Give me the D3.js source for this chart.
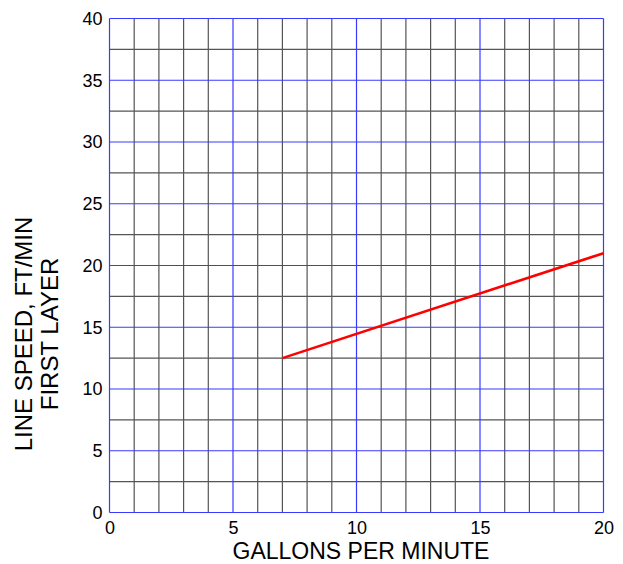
<!DOCTYPE html>
<html>
<head>
<meta charset="utf-8">
<script src="https://cdn.jsdelivr.net/npm/d3@7"></script>
<style>
  html, body { margin: 0; padding: 0; background: #fff; }
  svg { display: block; }
  text { font-family: Arial, "Liberation Sans", sans-serif; fill: #000; }
</style>
</head>
<body>
<svg id="chart" width="623" height="564"></svg>
<script>
// Data
const lineX = [7, 20];          // gallons per minute
const lineY = [12.5, 21];       // line speed, ft/min
const xTicks = [0, 5, 10, 15, 20];
const yTicks = [0, 5, 10, 15, 20, 25, 30, 35, 40];
const xMinor = d3.range(0, 20.001, 1);
const yMinor = d3.range(0, 40.001, 2.5);
const xTitle = "GALLONS PER MINUTE";
const yTitleLines = ["LINE SPEED, FT/MIN", "FIRST LAYER"];

const svg = d3.select("#chart");
const L = 109.5, R = 603.5, T = 18.5, B = 512.5;
const x = d3.scaleLinear().domain([0, 20]).range([L, R]);
const y = d3.scaleLinear().domain([0, 40]).range([B, T]);

const grid = svg.append("g");
// minor grid (dark)
grid.selectAll("line.vx").data(xMinor.filter(d => d % 5 !== 0)).join("line")
  .attr("x1", d => x(d)).attr("x2", d => x(d)).attr("y1", T).attr("y2", B)
  .attr("stroke", "#555").attr("stroke-width", 1.2);
grid.selectAll("line.hy").data(yMinor.filter(d => d % 5 !== 0)).join("line")
  .attr("y1", d => y(d)).attr("y2", d => y(d)).attr("x1", L).attr("x2", R)
  .attr("stroke", "#555").attr("stroke-width", 1.2);
// major grid (blue)
grid.selectAll("line.mx").data(xTicks).join("line")
  .attr("x1", d => x(d)).attr("x2", d => x(d)).attr("y1", T).attr("y2", B)
  .attr("stroke", "#3a3aff").attr("stroke-width", 1.2);
grid.selectAll("line.my").data(yTicks).join("line")
  .attr("y1", d => y(d)).attr("y2", d => y(d)).attr("x1", L).attr("x2", R)
  .attr("stroke", "#3a3aff").attr("stroke-width", 1.2);

// data line
const pts = lineX.map((d, i) => [d, lineY[i]]);
svg.append("path").datum(pts)
  .attr("d", d3.line().x(d => x(d[0])).y(d => y(d[1])))
  .attr("fill", "none").attr("stroke", "#ff0000").attr("stroke-width", 2.6);

// axes (labels only)
const xAxis = d3.axisBottom(x).tickValues(xTicks).tickSize(0).tickPadding(8.5);
const gx = svg.append("g").attr("transform", `translate(0,${B})`).call(xAxis);
gx.select(".domain").remove();
gx.selectAll("text").style("font-size", "18px").style("font-family", "Arial, 'Liberation Sans', sans-serif");

const yAxis = d3.axisLeft(y).tickValues(yTicks).tickSize(0).tickPadding(7);
const gy = svg.append("g").attr("transform", `translate(${L},0)`).call(yAxis);
gy.select(".domain").remove();
gy.selectAll("text").style("font-size", "18px").style("font-family", "Arial, 'Liberation Sans', sans-serif");

// titles
svg.append("text").attr("x", 361).attr("y", 559).attr("text-anchor", "middle")
  .style("font-size", "23px").text(xTitle);

const yt = svg.append("text").attr("transform", "translate(32,334) rotate(-90)")
  .attr("text-anchor", "middle").style("font-size", "24px");
yt.selectAll("tspan").data(yTitleLines).join("tspan")
  .attr("x", 0).attr("dy", (d, i) => i === 0 ? 0 : 26).text(d => d);
</script>
</body>
</html>
